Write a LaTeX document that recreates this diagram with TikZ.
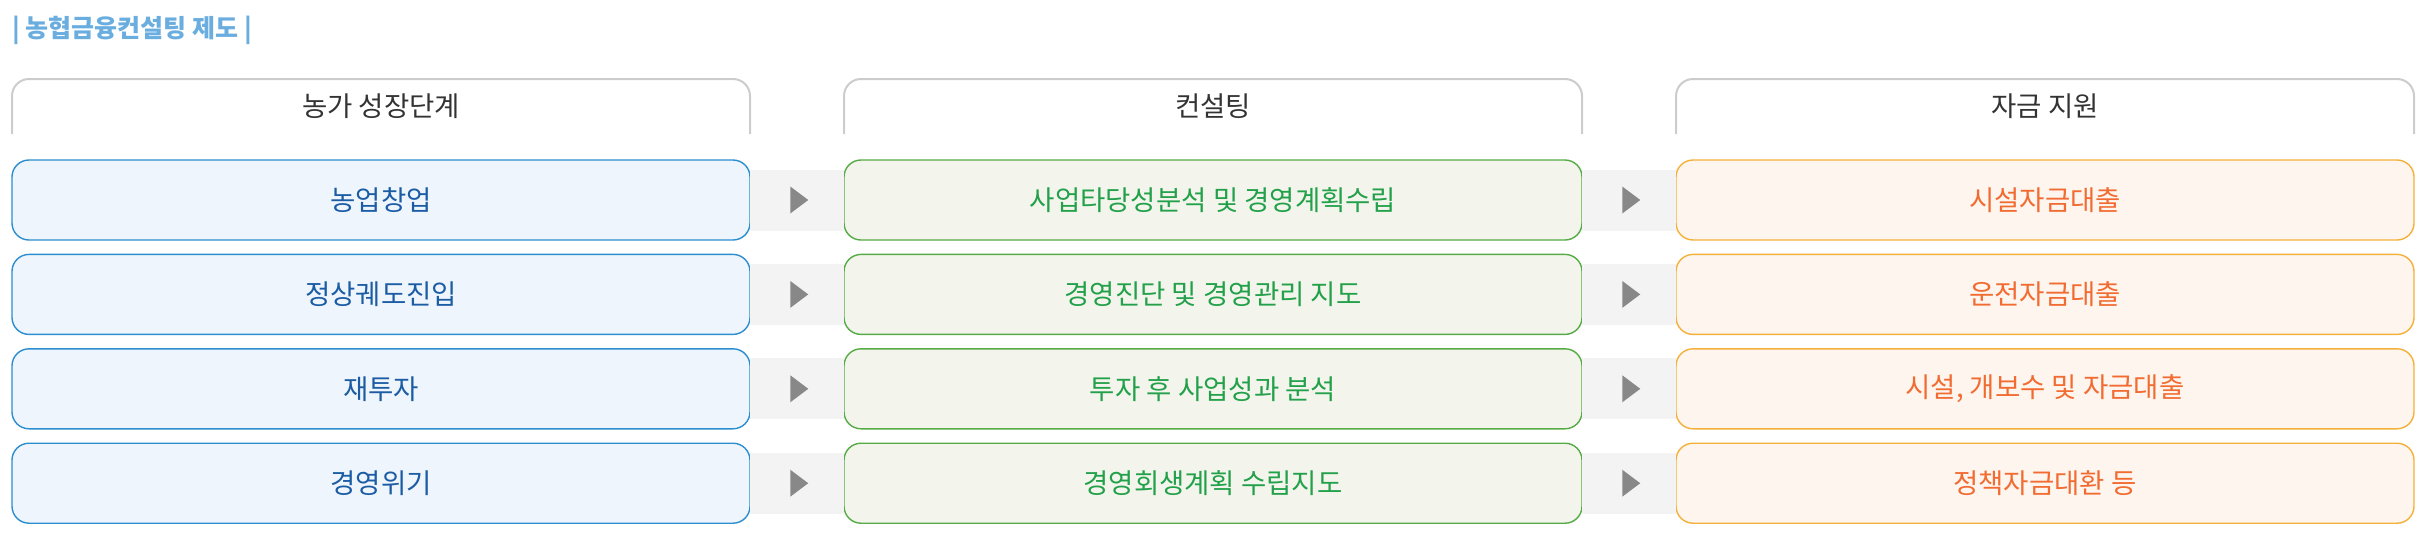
\documentclass[tikz,border=0pt]{standalone}
\usepackage{fontspec}
\setmainfont{Noto Sans CJK KR}
\usetikzlibrary{positioning, shapes.geometric}
\definecolor{titleblue}{HTML}{6AADDF}
\definecolor{headtext}{HTML}{333333}
\definecolor{tabline}{HTML}{CCCCCC}
\definecolor{stageline}{HTML}{2C8ECF}
\definecolor{stagefill}{HTML}{EEF5FC}
\definecolor{stagetext}{HTML}{1B5CA5}
\definecolor{consline}{HTML}{55AB45}
\definecolor{consfill}{HTML}{F3F5EC}
\definecolor{constext}{HTML}{22A04A}
\definecolor{fundline}{HTML}{F4B13A}
\definecolor{fundfill}{HTML}{FDF5EE}
\definecolor{fundtext}{HTML}{F26C32}
\definecolor{bandgray}{HTML}{F3F3F3}
\definecolor{tipgray}{HTML}{888888}
\tikzset{
  box/.style={draw, rectangle, rounded corners=8.5pt, minimum width=369pt, minimum height=40pt, line width=0.7pt, outer sep=0pt, font=\fontsize{13.75}{16}\selectfont},
  stage/.style={box, draw=stageline, fill=stagefill, text=stagetext},
  cons/.style={box, draw=consline, fill=consfill, text=constext},
  fund/.style={box, draw=fundline, fill=fundfill, text=fundtext},
  head/.style={rectangle, minimum width=369pt, minimum height=27.5pt, outer sep=0pt, text=headtext, font=\fontsize{13.75}{16}\selectfont},
  tab/.style={draw=tabline, line width=1pt, rounded corners=8.5pt},
  band/.style={draw=bandgray, line width=30.5pt},
  tip/.style={isosceles triangle, isosceles triangle stretches, fill=tipgray, inner sep=0pt, minimum width=13.5pt, minimum height=9pt},
}

\begin{document}
\begin{tikzpicture}[node distance=7.2pt and 47pt]
  \useasboundingbox (0,0) rectangle (1212pt,-268pt);

  \node[anchor=west, inner sep=0pt, text=titleblue, font=\bfseries\fontsize{12.5}{15}\selectfont] (title) at (6pt,-15pt) {| 농협금융컨설팅 제도 |};

  % column heads
  \node[head] (hstage) at (190.5pt,-53.25pt) {농가 성장단계};
  \node[head, right=of hstage] (hcons) {컨설팅};
  \node[head, right=of hcons] (hfund) {자금 지원};

  \draw[tab] (hstage.south west) -- (hstage.north west) -- (hstage.north east) -- (hstage.south east);
  \draw[tab] (hcons.south west) -- (hcons.north west) -- (hcons.north east) -- (hcons.south east);
  \draw[tab] (hfund.south west) -- (hfund.north west) -- (hfund.north east) -- (hfund.south east);

  % growth stages
  \node[stage, below=13pt of hstage] (stage1) {농업창업};
  \node[stage, below=of stage1] (stage2) {정상궤도진입};
  \node[stage, below=of stage2] (stage3) {재투자};
  \node[stage, below=of stage3] (stage4) {경영위기};

  % consulting
  \node[cons, right=of stage1] (cons1) {사업타당성분석 및 경영계획수립};
  \node[cons, right=of stage2] (cons2) {경영진단 및 경영관리 지도};
  \node[cons, right=of stage3] (cons3) {투자 후 사업성과 분석};
  \node[cons, right=of stage4] (cons4) {경영회생계획 수립지도};

  % funding
  \node[fund, right=of cons1] (fund1) {시설자금대출};
  \node[fund, right=of cons2] (fund2) {운전자금대출};
  \node[fund, right=of cons3] (fund3) {시설, 개보수 및 자금대출};
  \node[fund, right=of cons4] (fund4) {정책자금대환 등};

  \draw[band] (stage1.east) -- node[tip]{} (cons1.west);
  \draw[band] (stage2.east) -- node[tip]{} (cons2.west);
  \draw[band] (stage3.east) -- node[tip]{} (cons3.west);
  \draw[band] (stage4.east) -- node[tip]{} (cons4.west);

  \draw[band] (cons1.east) -- node[tip]{} (fund1.west);
  \draw[band] (cons2.east) -- node[tip]{} (fund2.west);
  \draw[band] (cons3.east) -- node[tip]{} (fund3.west);
  \draw[band] (cons4.east) -- node[tip]{} (fund4.west);
\end{tikzpicture}
\end{document}
